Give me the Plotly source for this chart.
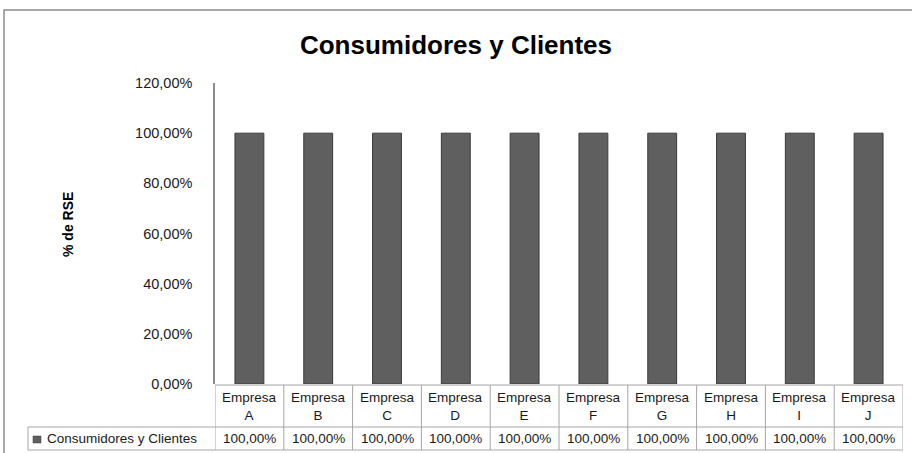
import plotly.graph_objects as go

# ---- data ----
categories = ["Empresa<br>A", "Empresa<br>B", "Empresa<br>C", "Empresa<br>D", "Empresa<br>E",
              "Empresa<br>F", "Empresa<br>G", "Empresa<br>H", "Empresa<br>I", "Empresa<br>J"]
series_name = "Consumidores y Clientes"
values = [1.00, 1.00, 1.00, 1.00, 1.00, 1.00, 1.00, 1.00, 1.00, 1.00]
y_ticks = [0.0, 0.2, 0.4, 0.6, 0.8, 1.0, 1.2]
chart_title = "Consumidores y Clientes"
y_title = "% de RSE"

# ---- layout geometry (pixels) ----
W, H = 912, 453
L, R, T, B = 215, 9, 83, 69
PW, PH = W - L - R, H - T - B
FONT = "Liberation Sans"
GRID = "#a6a6a6"


def py(p):  # pixel y -> paper y
    return (H - B - p) / PH


def px(p):  # pixel x -> paper x
    return (p - L) / PW


n = len(categories)
xs = list(range(n))

fig = go.Figure()
fig.add_trace(go.Bar(
    x=xs, y=values, name=series_name,
    marker=dict(color="#5f5f5f", line=dict(color="#3c3c3c", width=1)),
    showlegend=False,
))

shapes = []
annotations = []

# outer chart border
shapes.append(dict(type="rect", xref="paper", yref="paper",
                   x0=px(4), x1=px(930), y0=py(470), y1=py(10),
                   line=dict(color="#8c8c8c", width=1.5)))

# data table
t_top, t_mid, t_bot = py(385), py(427), py(450)
shapes.append(dict(type="line", xref="x", yref="paper", x0=-0.5, x1=n - 0.5,
                   y0=t_top, y1=t_top, line=dict(color=GRID, width=1)))
shapes.append(dict(type="line", xref="paper", yref="paper", x0=px(28), x1=1,
                   y0=t_mid, y1=t_mid, line=dict(color=GRID, width=1)))
shapes.append(dict(type="line", xref="paper", yref="paper", x0=px(28), x1=1,
                   y0=t_bot, y1=t_bot, line=dict(color=GRID, width=1)))
shapes.append(dict(type="line", xref="paper", yref="paper", x0=px(28), x1=px(28),
                   y0=t_mid, y1=t_bot, line=dict(color=GRID, width=1)))
for i in range(n + 1):
    shapes.append(dict(type="line", xref="x", yref="paper", x0=i - 0.5, x1=i - 0.5,
                       y0=t_top, y1=t_bot, line=dict(color=GRID, width=1)))

for i, (c, v) in enumerate(zip(categories, values)):
    annotations.append(dict(x=i, xref="x", y=(t_top + t_mid) / 2, yref="paper",
                            text=c, showarrow=False, yanchor="middle",
                            font=dict(family=FONT, size=13.5, color="#1a1a1a")))
    txt = f"{v * 100:.2f}%".replace(".", ",")
    annotations.append(dict(x=i, xref="x", y=py(438.5), yref="paper",
                            text=txt, showarrow=False, yanchor="middle",
                            font=dict(family=FONT, size=13.5, color="#1a1a1a")))

# legend key + series label
shapes.append(dict(type="rect", xref="paper", yref="paper",
                   x0=px(33), x1=px(41), y0=py(443), y1=py(436),
                   fillcolor="#5f5f5f", line=dict(color="#3c3c3c", width=0.5)))
annotations.append(dict(x=px(45), xref="paper", y=py(438.5), yref="paper",
                        text=series_name, showarrow=False, xanchor="left", yanchor="middle",
                        font=dict(family=FONT, size=13.5, color="#1a1a1a")))

# y axis title
annotations.append(dict(x=px(68), xref="paper", y=py(225), yref="paper",
                        text=f"<b>{y_title}</b>", showarrow=False, textangle=-90,
                        xanchor="center", yanchor="middle",
                        font=dict(family=FONT, size=14, color="#000000")))

fig.update_layout(
    width=W, height=H,
    margin=dict(l=L, r=R, t=T, b=B),
    paper_bgcolor="white", plot_bgcolor="white",
    separators=",.",
    title=dict(text=f"<b>{chart_title}</b>", x=0.5, xref="container", xanchor="center",
               y=1 - 45 / H, yref="container", yanchor="middle",
               font=dict(family=FONT, size=26, color="#000000")),
    bargap=0.58,
    shapes=shapes,
    annotations=annotations,
    showlegend=False,
)
fig.update_xaxes(range=[-0.5, n - 0.5], showticklabels=False, showgrid=False,
                 zeroline=False, showline=False, ticks="")
fig.update_yaxes(range=[0, 1.2], tickvals=y_ticks, tickformat=".2%",
                 showgrid=False, zeroline=False, showline=True, linecolor="#8c8c8c",
                 linewidth=1.5, ticks="", ticklabelstandoff=18,
                 tickfont=dict(family=FONT, size=14.5, color="#1a1a1a"))

fig.write_html("out.html", config={"displayModeBar": False},
               post_script="document.body.style.margin='0px';document.body.style.overflow='hidden';")
